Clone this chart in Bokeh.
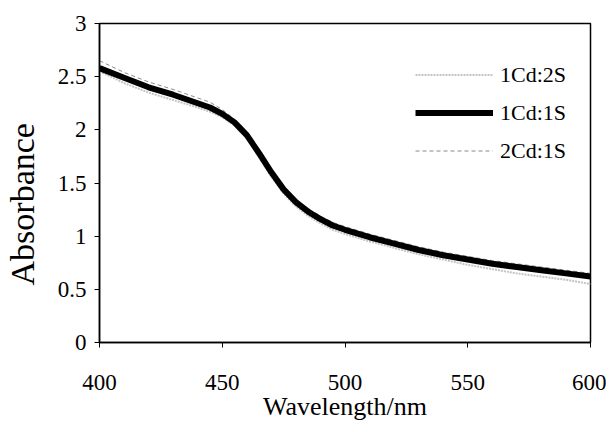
from bokeh.plotting import figure
from bokeh.models import Legend, LegendItem, FixedTicker
from bokeh.embed import file_html
from bokeh.resources import INLINE

wavelength = [400, 410, 420, 430, 440, 445, 450, 455, 460, 465, 470, 475, 480, 485, 490, 495,
              500, 510, 520, 530, 540, 550, 560, 570, 580, 590, 600]
abs_1cd1s = [2.58, 2.49, 2.40, 2.33, 2.25, 2.21, 2.15, 2.07, 1.95, 1.78, 1.60, 1.44, 1.32, 1.23, 1.16, 1.10,
             1.06, 0.99, 0.93, 0.87, 0.82, 0.78, 0.74, 0.71, 0.68, 0.65, 0.62]
abs_1cd2s = [2.55, 2.44, 2.35, 2.28, 2.21, 2.17, 2.12, 2.04, 1.92, 1.74, 1.56, 1.40, 1.28, 1.19, 1.12, 1.06,
             1.02, 0.95, 0.89, 0.83, 0.78, 0.73, 0.69, 0.65, 0.62, 0.59, 0.55]
abs_2cd1s = [2.65, 2.54, 2.45, 2.38, 2.30, 2.26, 2.19, 2.10, 1.97, 1.80, 1.62, 1.46, 1.34, 1.26, 1.19, 1.13,
             1.09, 1.02, 0.96, 0.90, 0.85, 0.81, 0.77, 0.74, 0.71, 0.68, 0.65]
x_ticks = [400, 450, 500, 550, 600]
y_ticks = [0, 0.5, 1, 1.5, 2, 2.5, 3]
y_labels = {0: "0", 0.5: "0.5", 1: "1", 1.5: "1.5", 2: "2", 2.5: "2.5", 3: "3"}
x_title = "Wavelength/nm"
y_title = "Absorbance"

p = figure(width=606, height=424, output_backend="svg", toolbar_location=None,
           x_range=(400, 600), y_range=(0, 3),
           min_border_left=97, min_border_right=16, min_border_top=23, min_border_bottom=82)

p.xgrid.visible = False
p.ygrid.visible = False
p.outline_line_color = "black"
p.outline_line_width = 1.5
p.background_fill_color = "white"
p.border_fill_color = "white"

font = "Liberation Serif"
for ax in (p.xaxis[0], p.yaxis[0]):
    ax.axis_line_color = "black"
    ax.axis_line_width = 1.5
    ax.major_tick_out = 5
    ax.major_tick_in = 0
    ax.minor_tick_out = 0
    ax.minor_tick_in = 0
    ax.major_label_text_font = font
    ax.major_label_text_font_size = "23px"
    ax.major_label_text_color = "black"
    ax.axis_label_text_font = font
    ax.axis_label_text_font_style = "normal"
    ax.axis_label_text_color = "black"

p.xaxis.ticker = FixedTicker(ticks=x_ticks)
p.yaxis.ticker = FixedTicker(ticks=y_ticks)
p.yaxis.major_label_overrides = y_labels
p.xaxis.axis_label = x_title
p.yaxis.axis_label = y_title + "\u00a0" * 5
p.xaxis.axis_label_text_font_size = "26px"
p.yaxis.axis_label_text_font_size = "34px"
p.xaxis.major_label_standoff = 27
p.xaxis.axis_label_standoff = -1
p.yaxis.major_label_standoff = 8
p.yaxis.axis_label_standoff = 14

r1 = p.line(wavelength, abs_1cd2s, line_color="#c4c4c4", line_width=2, line_dash="2 1")
r3 = p.line(wavelength, abs_2cd1s, line_color="#8a8a8a", line_width=1, line_dash="4 3")
r2 = p.line(wavelength, abs_1cd1s, line_color="black", line_width=6)

legend = Legend(items=[LegendItem(label="1Cd:2S", renderers=[r1]),
                       LegendItem(label="1Cd:1S", renderers=[r2]),
                       LegendItem(label="2Cd:1S", renderers=[r3])],
                location=(316, 178), border_line_color=None, background_fill_alpha=0,
                glyph_width=78, glyph_height=27, label_height=27, spacing=11,
                label_standoff=7, padding=0, margin=0,
                label_text_font=font, label_text_font_size="22px", label_text_color="black")
p.add_layout(legend)

open("out.html", "w").write(file_html(p, INLINE))
